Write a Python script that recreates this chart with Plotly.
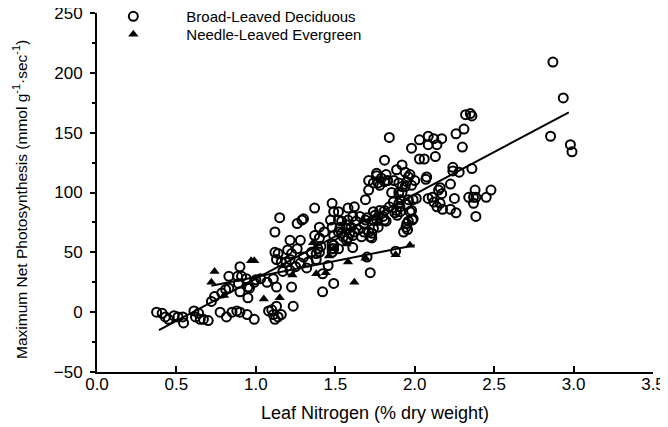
import plotly.graph_objects as go

# Broad-leaved deciduous (leaf N %, max net photosynthesis)
decid_x = [0.375, 0.41, 0.43, 0.45, 0.485, 0.51, 0.54, 0.545, 0.61, 0.64, 0.62, 0.65, 0.67, 0.70, 0.775, 0.815, 0.85, 0.88, 0.90, 0.945, 0.99,
           0.72, 0.74, 0.785, 0.81, 0.83, 0.885, 0.90, 0.89, 0.83, 0.90, 0.96, 0.95, 0.99, 1.03, 1.07, 1.08, 0.91, 0.94, 1.00, 0.95,
           1.13, 1.10, 1.16, 1.11, 1.14, 1.235, 1.11, 1.13, 1.225, 1.12, 1.14, 1.20, 1.13, 1.16, 1.215, 1.215, 1.25, 1.17, 1.28, 1.15, 1.12, 1.26, 1.29, 1.215, 1.12,
           1.30, 1.33, 1.35, 1.39, 1.40, 1.38, 1.48, 1.48, 1.32, 1.30, 1.40, 1.43, 1.37, 1.40, 1.49, 1.41, 1.38, 1.28, 1.26, 1.225, 1.19, 1.37, 1.42, 1.49, 1.455, 1.42,
           1.48, 1.49, 1.52, 1.47, 1.52, 1.48, 1.49, 1.48, 1.49, 1.52, 1.54, 1.53, 1.52,
           1.58, 1.62, 1.58, 1.61, 1.655, 1.69, 1.57, 1.60, 1.63, 1.645, 1.665, 1.59, 1.58, 1.55, 1.57, 1.61, 1.57, 1.68, 1.68, 1.71, 1.62, 1.61, 1.70, 1.72, 1.73, 1.72, 1.70, 1.54,
           1.74, 1.75, 1.76, 1.77, 1.74, 1.73, 1.82, 1.80, 1.78, 1.81, 1.81, 1.74,
           1.76, 1.79, 1.74, 1.71, 1.69, 1.77, 1.81, 1.71, 1.78, 1.83, 1.82, 1.76, 1.81, 1.84,
           1.886, 1.92, 1.87, 1.90, 1.92, 1.96, 2.00, 1.855, 1.90, 1.94, 1.91, 1.96, 1.886, 1.907, 1.90, 1.865, 1.84, 1.875, 1.99, 1.95, 1.97, 1.985, 1.96, 1.95, 1.93, 1.945, 1.955,
           1.89, 1.91, 1.98, 1.99, 1.94, 1.97, 1.98, 1.95, 1.92, 1.98, 1.88,
           2.03, 2.085, 2.12, 2.17, 2.085, 2.14, 2.03, 2.06, 2.13, 2.07, 2.075, 2.16, 2.15, 2.17, 2.225, 2.085, 2.12, 2.14, 2.16, 2.11, 2.01, 2.175,
           2.35, 2.32, 2.36, 2.31, 2.26, 2.30, 2.24, 2.36, 2.28, 2.24, 2.38, 2.37, 2.34, 2.25, 2.385, 2.225, 2.26, 2.48, 2.45, 2.385, 2.37,
           2.87, 2.935, 2.855, 2.98, 2.99]
decid_y = [0, -1, -4, -6, -3, -4, -4, -9, 1, -1, -4, -6, -6, -7, 0, -4, 0, 1, 0, -2, -6,
           9, 13, 16, 19, 30, 30, 38, 24, 20, 17, 20, 12, 25, 28, 25, 1, 30, 28, 27, 21,
           5, 2, -2, -2, -4, 5, 28, 21, 21, 50, 49, 52, 44, 42, 44, 35, 38, 34, 41, 79, 67, 74, 77, 60, -6,
           46, 42, 50, 53, 50, 44, 53, 50, 37, 78, 71, 67, 64, 62, 56, 55, 49, 60, 53, 49, 42, 87, 17, 24, 39, 32,
           91, 84, 84, 77, 77, 71, 64, 57, 53, 53, 66, 71, 67,
           87, 88, 77, 80, 80, 77, 70, 71, 76, 69, 63, 66, 62, 63, 73, 54, 60, 74, 67, 67, 67, 64, 79, 63, 66, 33, 46, 76,
           84, 81, 77, 71, 70, 62, 76, 80, 85, 85, 77, 77,
           116, 112, 108, 102, 94, 108, 109, 110, 106, 110, 115, 114, 127, 146,
           119, 123, 110, 108, 105, 113, 110, 100, 100, 105, 94, 94, 85, 88, 91, 92, 88, 83, 94, 90, 84, 77, 76, 74, 67, 71, 69,
           81, 84, 85, 78, 117, 115, 106, 109, 100, 137, 51,
           144, 147, 145, 145, 140, 140, 128, 128, 130, 111, 113, 104, 102, 99, 107, 95, 92, 88, 91, 96, 95, 86,
           166, 165, 164, 153, 149, 138, 121, 120, 117, 118, 102, 96, 96, 95, 80, 86, 83, 102, 96, 96, 91,
           209, 179, 147, 140, 134]

# Needle-leaved evergreen
ever_x = [0.72, 0.74, 0.80, 0.97, 0.99, 1.05, 1.15, 1.23, 1.36, 1.38, 1.44, 1.46, 1.49, 1.57, 1.58, 1.62, 1.69, 1.75, 1.76, 1.88, 1.97]
ever_y = [25, 34, 14, 43, 43, 11, 12, 31, 58, 32, 33, 47, 53, 57, 42, 25, 45, 80, 74, 48, 56]

# Regression lines (end points)
fit_decid_x = [0.39, 2.97]
fit_decid_y = [-15, 167]
fit_ever_x = [0.72, 2.0]
fit_ever_y = [22, 56]

x_ticks = [0.0, 0.5, 1.0, 1.5, 2.0, 2.5, 3.0, 3.5]
x_labels = ["0.0", "0.5", "1.0", "1.5", "2.0", "2.5", "3.0", "3.5"]
y_ticks = [-50, 0, 50, 100, 150, 200, 250]

FONT = "Liberation Sans, Arial, sans-serif"

fig = go.Figure()
fig.add_trace(go.Scatter(x=fit_decid_x, y=fit_decid_y, mode="lines",
                         line=dict(color="black", width=2), showlegend=False, hoverinfo="skip"))
fig.add_trace(go.Scatter(x=fit_ever_x, y=fit_ever_y, mode="lines",
                         line=dict(color="black", width=2), showlegend=False, hoverinfo="skip"))
fig.add_trace(go.Scatter(x=decid_x, y=decid_y, mode="markers", name="Broad-Leaved Deciduous",
                         legend="legend",
                         marker=dict(symbol="circle-open", size=9, color="black", line=dict(width=2))))
fig.add_trace(go.Scatter(x=ever_x, y=ever_y, mode="markers", name="Needle-Leaved Evergreen",
                         legend="legend2",
                         marker=dict(symbol="triangle-up", size=9, color="black")))

legend_common = dict(x=-0.030, xanchor="left", yanchor="top", bgcolor="rgba(0,0,0,0)",
                     font=dict(size=15), itemwidth=96)

# The page places the figure 8 px from the top-left corner, so the figure is
# sized to end at the window edge.
fig.update_layout(
    width=660, height=419,
    margin=dict(l=89, r=15, t=5, b=55, autoexpand=False),
    paper_bgcolor="white", plot_bgcolor="white",
    font=dict(family=FONT, color="black", size=14),
    legend=dict(y=1.036, **legend_common),
    legend2=dict(y=0.986, **legend_common),
    xaxis=dict(range=[0, 3.5], tickvals=x_ticks, ticktext=x_labels, showgrid=False, zeroline=False,
               showline=True, linecolor="black", linewidth=2, ticks="inside", ticklen=6, tickwidth=1.5,
               tickcolor="black", tickfont=dict(size=17), automargin=False, ticklabelstandoff=-4,
               ticklabeloverflow="allow",
               title=dict(text="Leaf Nitrogen (% dry weight)", font=dict(size=18), standoff=13)),
    yaxis=dict(range=[-50, 250], tickvals=y_ticks, showgrid=False, zeroline=False,
               showline=True, linecolor="black", linewidth=2, ticks="outside", ticklen=5, tickwidth=1.5,
               tickcolor="black", tickfont=dict(size=17), automargin=False, ticklabelstandoff=4,
               ticklabeloverflow="allow",
               minor=dict(dtick=25, ticks="outside", ticklen=3, tickcolor="black")),
    annotations=[dict(text="Maximum Net Photosynthesis (mmol g<sup>-1</sup>·sec<sup>-1</sup>)",
                      textangle=-90, xref="paper", yref="paper", x=-0.1385, y=0.482,
                      xanchor="center", yanchor="middle", showarrow=False,
                      font=dict(size=15.5, family=FONT, color="black"))],
)

fig.write_html("out.html")
